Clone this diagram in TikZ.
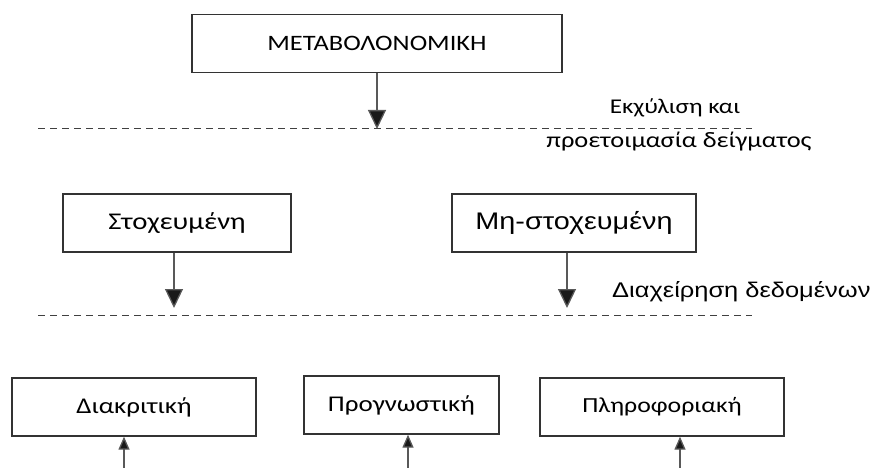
\documentclass[tikz,border=0pt]{standalone}
\usepackage{fontspec}
\setmainfont{Carlito}[FakeStretch=1.2]
\newfontfamily\arialfont{Liberation Sans}[FakeStretch=1.2]
\usetikzlibrary{arrows.meta}
\usetikzlibrary{positioning}

\begin{document}
\begin{tikzpicture}[x=1pt,y=-1pt]
	\tikzset{box/.style={draw=black!80,line width=1.3pt,minimum height=58pt,inner sep=0pt,font=\fontsize{22.5}{26}\selectfont}}
	\tikzset{flow/.style={draw=black!65,line width=1.3pt,-{Triangle[width=18pt,length=19pt,fill=black!90]}}}
	\tikzset{flowup/.style={draw=black!65,line width=1.3pt,-{Triangle[width=11pt,length=13pt,fill=black!90]}}}
	\tikzset{sep/.style={draw=black!75,line width=1pt,dash pattern=on 7pt off 5pt}}
	\tikzset{note/.style={inner sep=0pt,font=\fontsize{21.5}{26}\selectfont}}
	\useasboundingbox (0,0) rectangle (872,468);

	% level 1
	\node[box,minimum width=370pt,font=\fontsize{22}{26}\selectfont] (metab) at (377,43.5) {ΜΕΤΑΒΟΛΟΝΟΜΙΚΗ};
	\coordinate (sepAl) at (38,129);
	\coordinate (sepAr) at (752,129);
	\draw[sep] (sepAl) -- (sepAr);
	\draw[flow] (metab.south) -- (metab.south |- sepAr);
	\node[note,font=\fontsize{21}{26}\selectfont] (ext) at (675,108) {Εκχύλιση και};
	\node[note,font=\fontsize{22}{26}\selectfont] (prep) at (679,142) {προετοιμασία δείγματος};

	% level 2
	\node[box,minimum width=228pt,font=\fontsize{24}{28}\selectfont] (targ) at (177,223) {Στοχευμένη};
	\node[box,minimum width=244pt,font=\arialfont\fontsize{24}{28}\selectfont] (untarg) at (574,223) {Μη-στοχευμένη};
	\coordinate (sepBl) at (38,315);
	\coordinate (sepBr) at (752,315);
	\coordinate (tipB) at (0,308);
	\draw[sep] (sepBl) -- (sepBr);
	\draw[flow] ([xshift=-3pt]targ.south) -- ([xshift=-3pt]targ.south |- tipB);
	\draw[flow] ([xshift=-7pt]untarg.south) -- ([xshift=-7pt]untarg.south |- tipB);
	\node[note,font=\arialfont\fontsize{21.2}{26}\selectfont,anchor=west] (data) at (612,292) {Διαχείρηση δεδομένων};

	% level 3
	\node[box,minimum width=244pt] (discr) at (134,407) {Διακριτική};
	\node[box,minimum width=195pt] (progn) at (401.5,405) {Προγνωστική};
	\node[box,minimum width=244pt,font=\fontsize{21.5}{26}\selectfont] (inform) at (662,407) {Πληροφοριακή};
	\coordinate (inA) at (124,468);
	\coordinate (inB) at (408,468);
	\coordinate (inC) at (680,468);
	\draw[flowup] (inA) -- (inA |- discr.south);
	\draw[flowup] (inB) -- (inB |- progn.south);
	\draw[flowup] (inC) -- (inC |- inform.south);
\end{tikzpicture}
\end{document}
